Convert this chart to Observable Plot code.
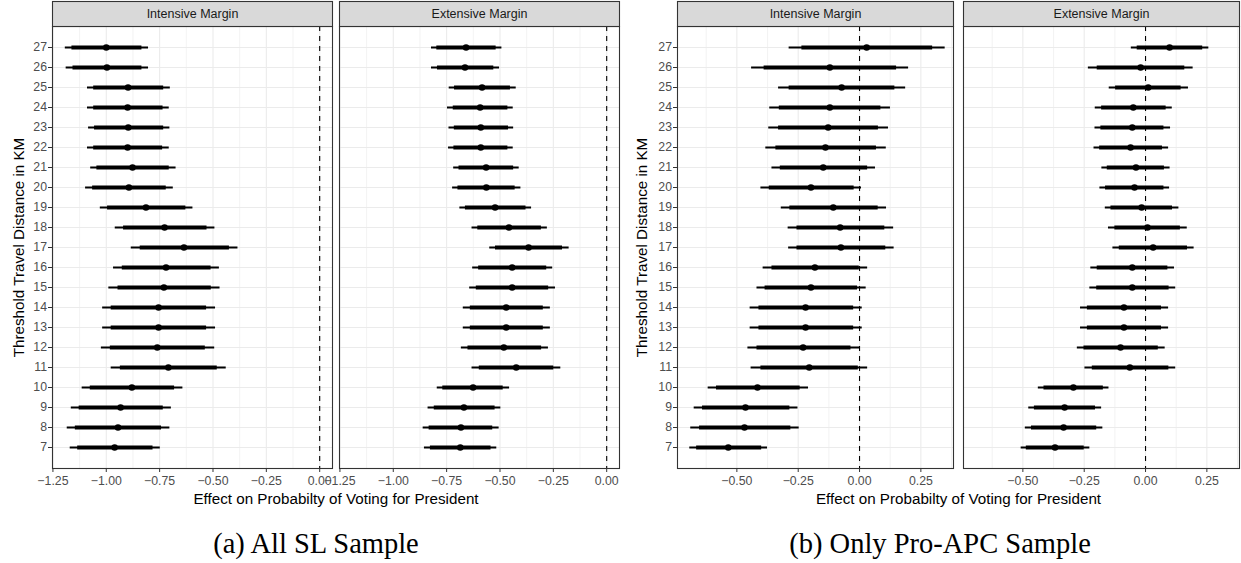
<!DOCTYPE html>
<html><head><meta charset="utf-8">
<script src="https://cdn.jsdelivr.net/npm/d3@7"></script>
<script src="https://cdn.jsdelivr.net/npm/@observablehq/plot@0.6"></script>
<style>
body{margin:0;background:#fff;}
#wrap{position:relative;width:1241px;height:563px;overflow:hidden;background:#fff;}
#a{position:absolute;left:0;top:0;}
#b{position:absolute;left:620px;top:0;}
.cap{position:absolute;top:530px;font-family:"Liberation Serif","Times New Roman",serif;font-size:28.5px;line-height:28px;color:#000;white-space:nowrap;transform:translateX(-50%);}
</style>
</head><body>
<div id="wrap">
  <div id="a"></div>
  <div id="b"></div>
  <div class="cap" style="left:316px">(a) All SL Sample</div>
  <div class="cap" style="left:940px">(b) Only Pro-APC Sample</div>
</div>
<script>
const distances = [27,26,25,24,23,22,21,20,19,18,17,16,15,14,13,12,11,10,9,8,7];
const facets = ["Intensive Margin", "Extensive Margin"];
const xTitle = "Effect on Probabilty of Voting for President";
const yTitle = "Threshold Travel Distance in KM";

// Panel (a): All SL Sample
const est_aI  = [-1.000,-0.997,-0.898,-0.900,-0.897,-0.900,-0.877,-0.894,-0.814,-0.727,-0.636,-0.720,-0.730,-0.755,-0.755,-0.761,-0.709,-0.880,-0.933,-0.945,-0.961];
const lo95_aI = [-1.192,-1.188,-1.088,-1.088,-1.083,-1.088,-1.073,-1.097,-1.028,-0.958,-0.883,-0.966,-0.988,-1.017,-1.017,-1.023,-0.977,-1.113,-1.164,-1.183,-1.169];
const hi95_aI = [-0.802,-0.802,-0.700,-0.705,-0.702,-0.705,-0.673,-0.686,-0.594,-0.491,-0.383,-0.470,-0.467,-0.488,-0.488,-0.492,-0.438,-0.641,-0.695,-0.702,-0.747];
const lo90_aI = [-1.161,-1.156,-1.059,-1.059,-1.055,-1.059,-1.044,-1.064,-0.994,-0.919,-0.841,-0.925,-0.945,-0.977,-0.977,-0.981,-0.934,-1.075,-1.127,-1.145,-1.134];
const hi90_aI = [-0.833,-0.833,-0.731,-0.734,-0.731,-0.736,-0.705,-0.719,-0.627,-0.528,-0.423,-0.509,-0.508,-0.530,-0.530,-0.536,-0.480,-0.680,-0.733,-0.741,-0.781];

const est_aE  = [-0.659,-0.664,-0.584,-0.593,-0.590,-0.590,-0.565,-0.564,-0.523,-0.458,-0.366,-0.443,-0.443,-0.471,-0.471,-0.482,-0.424,-0.626,-0.669,-0.683,-0.686];
const lo95_aE = [-0.821,-0.821,-0.738,-0.746,-0.739,-0.741,-0.717,-0.722,-0.688,-0.631,-0.548,-0.628,-0.642,-0.672,-0.672,-0.681,-0.631,-0.794,-0.837,-0.860,-0.854];
const hi95_aE = [-0.491,-0.502,-0.424,-0.438,-0.436,-0.438,-0.410,-0.402,-0.352,-0.278,-0.176,-0.253,-0.240,-0.264,-0.264,-0.273,-0.215,-0.455,-0.496,-0.504,-0.515];
const lo90_aE = [-0.796,-0.793,-0.713,-0.719,-0.714,-0.716,-0.692,-0.697,-0.662,-0.604,-0.521,-0.600,-0.611,-0.639,-0.639,-0.650,-0.597,-0.768,-0.808,-0.832,-0.826];
const hi90_aE = [-0.518,-0.529,-0.451,-0.463,-0.460,-0.463,-0.436,-0.429,-0.378,-0.306,-0.207,-0.281,-0.272,-0.297,-0.297,-0.305,-0.248,-0.485,-0.523,-0.534,-0.542];

// Panel (b): Only Pro-APC Sample
const est_bI  = [0.029,-0.121,-0.073,-0.121,-0.128,-0.139,-0.148,-0.198,-0.107,-0.079,-0.076,-0.182,-0.198,-0.220,-0.220,-0.230,-0.205,-0.416,-0.465,-0.469,-0.535];
const lo95_bI = [-0.287,-0.440,-0.330,-0.366,-0.370,-0.382,-0.357,-0.402,-0.319,-0.291,-0.289,-0.393,-0.418,-0.446,-0.446,-0.455,-0.442,-0.617,-0.674,-0.688,-0.692];
const hi95_bI = [0.349,0.200,0.188,0.126,0.118,0.109,0.065,0.008,0.110,0.139,0.141,0.033,0.027,0.011,0.011,0.003,0.033,-0.208,-0.251,-0.246,-0.375];
const lo90_bI = [-0.235,-0.389,-0.287,-0.327,-0.330,-0.341,-0.323,-0.368,-0.284,-0.255,-0.255,-0.357,-0.385,-0.410,-0.410,-0.418,-0.402,-0.583,-0.640,-0.652,-0.664];
const hi90_bI = [0.298,0.151,0.144,0.087,0.077,0.069,0.033,-0.022,0.076,0.103,0.107,-0.001,-0.008,-0.024,-0.024,-0.035,-0.005,-0.242,-0.284,-0.280,-0.399];

const est_bE  = [0.098,-0.020,0.011,-0.050,-0.054,-0.061,-0.039,-0.045,-0.016,0.008,0.031,-0.054,-0.054,-0.088,-0.088,-0.102,-0.064,-0.294,-0.330,-0.334,-0.369];
const lo95_bE = [-0.058,-0.233,-0.148,-0.205,-0.206,-0.210,-0.178,-0.186,-0.164,-0.151,-0.133,-0.223,-0.227,-0.265,-0.265,-0.278,-0.247,-0.437,-0.476,-0.490,-0.507];
const hi95_bE = [0.258,0.194,0.175,0.109,0.102,0.094,0.100,0.098,0.136,0.170,0.198,0.118,0.123,0.094,0.094,0.080,0.123,-0.149,-0.179,-0.174,-0.227];
const lo90_bE = [-0.034,-0.197,-0.122,-0.179,-0.182,-0.187,-0.156,-0.163,-0.141,-0.125,-0.107,-0.197,-0.199,-0.237,-0.237,-0.251,-0.217,-0.414,-0.453,-0.465,-0.486];
const hi90_bE = [0.233,0.160,0.145,0.084,0.075,0.069,0.077,0.075,0.110,0.142,0.171,0.091,0.096,0.065,0.065,0.052,0.095,-0.172,-0.204,-0.199,-0.250];

const majorA = [-1.25,-1.0,-0.75,-0.5,-0.25,0];
const minorA = [-1.125,-0.875,-0.625,-0.375,-0.125];
const majorB = [-0.5,-0.25,0,0.25];
const minorB = [-0.625,-0.375,-0.125,0.125,0.375];

function rows(facet, est, lo90, hi90, lo95, hi95) {
  return distances.map((d, i) => ({facet, dist: d, est: est[i], lo90: lo90[i], hi90: hi90[i], lo95: lo95[i], hi95: hi95[i]}));
}
const dataA = rows(facets[0], est_aI, lo90_aI, hi90_aI, lo95_aI, hi95_aI)
  .concat(rows(facets[1], est_aE, lo90_aE, hi90_aE, lo95_aE, hi95_aE));
const dataB = rows(facets[0], est_bI, lo90_bI, hi90_bI, lo95_bI, hi95_bI)
  .concat(rows(facets[1], est_bE, lo90_bE, hi90_bE, lo95_bE, hi95_bE));

const H = 510, MT = 26, MB = 42;

function panel(cfg) {
  const step = (cfg.width - cfg.ml - cfg.mr) / (2 - cfg.pad);
  const gap = step * cfg.pad;
  return Plot.plot({
    width: cfg.width, height: H,
    marginTop: MT, marginBottom: MB, marginLeft: cfg.ml, marginRight: cfg.mr,
    style: {fontFamily: "'Liberation Sans', Arial, sans-serif", fontSize: "12.3px", background: "transparent", color: "#000", overflow: "visible"},
    x: {domain: cfg.domain},
    y: {type: "point", domain: distances, padding: 0.6},
    fx: {domain: facets, paddingInner: cfg.pad, paddingOuter: 0, axis: null},
    marks: [
      Plot.gridX(cfg.minor, {stroke: "#ebebeb", strokeOpacity: 1, strokeWidth: 0.6}),
      Plot.gridX(cfg.major, {stroke: "#ebebeb", strokeOpacity: 1, strokeWidth: 1.1}),
      Plot.gridY(distances, {stroke: "#ebebeb", strokeOpacity: 1, strokeWidth: 1.1}),
      Plot.ruleX([0], {stroke: "#000", strokeWidth: 1.1, strokeDasharray: "5,5"}),
      Plot.ruleY(cfg.data, {fx: "facet", y: "dist", x1: "lo95", x2: "hi95", stroke: "#000", strokeWidth: 1.8}),
      Plot.ruleY(cfg.data, {fx: "facet", y: "dist", x1: "lo90", x2: "hi90", stroke: "#000", strokeWidth: 3.8}),
      Plot.dot(cfg.data, {fx: "facet", y: "dist", x: "est", r: 3.3, fill: "#000", stroke: "none"}),
      Plot.frame({stroke: "#333", strokeWidth: 1.1}),
      Plot.frame({fill: "#d9d9d9", stroke: "#333", strokeWidth: 1.1, insetTop: -25, insetBottom: H - MT - MB}),
      Plot.text(facets, {fx: d => d, text: d => d, frameAnchor: "top", lineAnchor: "middle", textAnchor: "middle", dy: -12.5, fill: "#1a1a1a", fontSize: 12.5}),
      Plot.axisX({ticks: cfg.major, tickFormat: d3.format(".2f"), tickSize: 4, tickPadding: 4, stroke: "#333", fill: "#4d4d4d", label: null}),
      Plot.axisY({ticks: distances, tickSize: 4, tickPadding: 1.5, stroke: "#333", fill: "#4d4d4d", label: null}),
      Plot.text([xTitle], {fx: () => facets[0], x: () => cfg.domain[1], text: d => d, frameAnchor: "bottom", lineAnchor: "middle", textAnchor: "middle", dx: gap / 2, dy: 31, fill: "#000", fontSize: 15.2}),
      Plot.text([yTitle], {fx: () => facets[0], text: d => d, frameAnchor: "left", lineAnchor: "middle", textAnchor: "middle", dx: cfg.ytdx, rotate: -90, fill: "#000", fontSize: 15.2})
    ]
  });
}

document.getElementById("a").appendChild(panel({
  width: 620, ml: 52, mr: 1, pad: 7 / 287, domain: [-1.252, 0.06],
  major: majorA, minor: minorA, data: dataA, ytdx: -33
}));
document.getElementById("b").appendChild(panel({
  width: 621, ml: 57, mr: 2, pad: 10 / 286, domain: [-0.742, 0.383],
  major: majorB, minor: minorB, data: dataB, ytdx: -35
}));
</script>
</body></html>
